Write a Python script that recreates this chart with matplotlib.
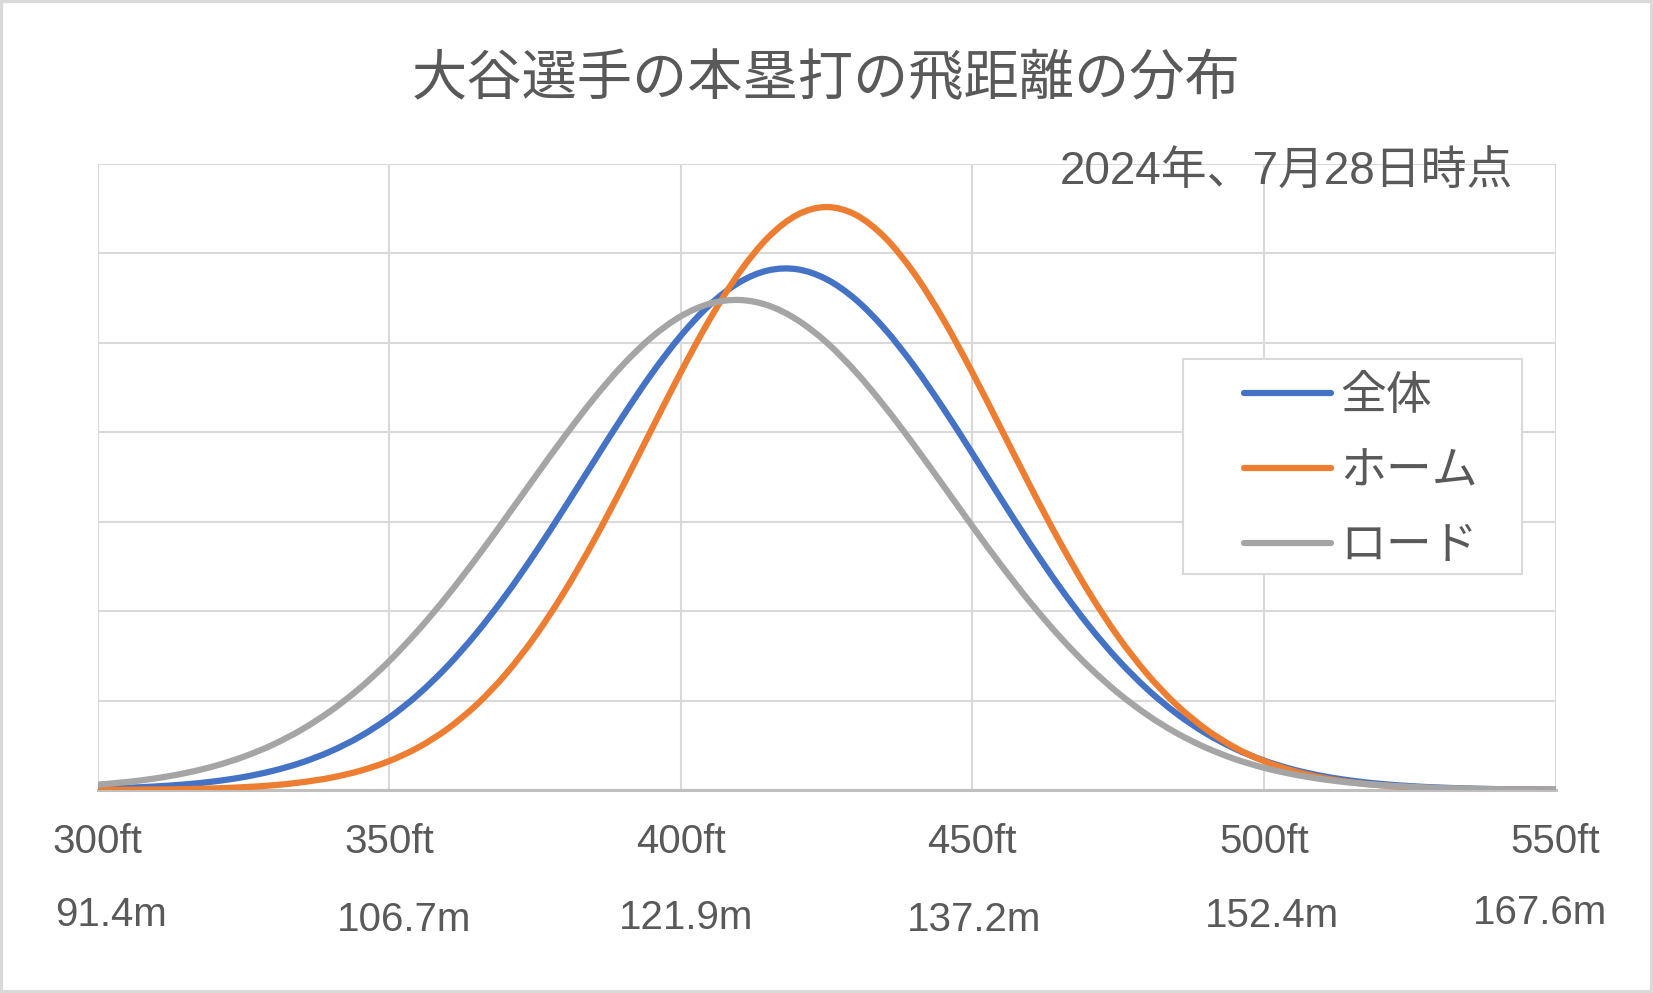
import numpy as np
import matplotlib.pyplot as plt
from matplotlib.patches import Rectangle, PathPatch
from matplotlib.path import Path
from matplotlib.lines import Line2D

# distance (ft), one reading every 5 ft
dist_ft = np.arange(300, 551, 5)

# density (one gridline = 0.002)
zentai = [0.000030, 0.000050, 0.000080, 0.000125, 0.000192, 0.000289, 0.000426, 0.000614,
          0.000866, 0.001195, 0.001616, 0.002138, 0.002769, 0.003511, 0.004356, 0.005292,
          0.006293, 0.007323, 0.008343, 0.009304, 0.010156, 0.010852, 0.011350, 0.011620,
          0.011645, 0.011423, 0.010969, 0.010309, 0.009485, 0.008542, 0.007530, 0.006497,
          0.005488, 0.004537, 0.003672, 0.002909, 0.002256, 0.001712, 0.001272, 0.000925,
          0.000659, 0.000459, 0.000313, 0.000209, 0.000137, 0.000087, 0.000055, 0.000034,
          0.000020, 0.000012, 0.000007]
home = [0.000003, 0.000006, 0.000011, 0.000020, 0.000036, 0.000063, 0.000105, 0.000173,
        0.000275, 0.000428, 0.000647, 0.000952, 0.001366, 0.001907, 0.002592, 0.003431,
        0.004422, 0.005548, 0.006778, 0.008062, 0.009338, 0.010530, 0.011561, 0.012359,
        0.012864, 0.013037, 0.012864, 0.012359, 0.011561, 0.010530, 0.009338, 0.008062,
        0.006778, 0.005548, 0.004422, 0.003431, 0.002592, 0.001907, 0.001366, 0.000952,
        0.000647, 0.000428, 0.000275, 0.000173, 0.000105, 0.000063, 0.000036, 0.000020,
        0.000011, 0.000006, 0.000003]
road = [0.000119, 0.000178, 0.000261, 0.000377, 0.000533, 0.000741, 0.001009, 0.001350,
        0.001771, 0.002280, 0.002881, 0.003573, 0.004347, 0.005191, 0.006083, 0.006995,
        0.007892, 0.008738, 0.009495, 0.010124, 0.010593, 0.010877, 0.010959, 0.010836,
        0.010513, 0.010010, 0.009353, 0.008575, 0.007715, 0.006812, 0.005902, 0.005018,
        0.004187, 0.003428, 0.002754, 0.002171, 0.001680, 0.001275, 0.000950, 0.000694,
        0.000498, 0.000351, 0.000242, 0.000164, 0.000109, 0.000071, 0.000046, 0.000029,
        0.000018, 0.000011, 0.000006]

series_names = ['全体', 'ホーム', 'ロード']
series_colors = ['#4472C4', '#ED7D31', '#A5A5A5']

ft_ticks = [300, 350, 400, 450, 500, 550]
ft_labels = ['300ft', '350ft', '400ft', '450ft', '500ft', '550ft']
m_labels = ['91.4m', '106.7m', '121.9m', '137.2m', '152.4m', '167.6m']

title = '大谷選手の本塁打の飛距離の分布'
subtitle = '2024年、7月28日時点'

TEXT = '#595959'
GRID = '#D9D9D9'
W, H = 1653, 993
LW = 4.5


def smooth_path(x, y):
    # Excel style smoothed line: bezier segments through every data point
    pts = np.column_stack([np.asarray(x, float), np.asarray(y, float)])
    ext = np.vstack([pts[0], pts, pts[-1]])
    verts = [pts[0]]
    codes = [Path.MOVETO]
    for i in range(len(pts) - 1):
        p0, p1, p2, p3 = ext[i], ext[i + 1], ext[i + 2], ext[i + 3]
        verts += [p1 + (p2 - p0) / 6, p2 - (p3 - p1) / 6, p2]
        codes += [Path.CURVE4] * 3
    return Path(verts, codes)


plt.rcParams['font.family'] = ['Liberation Sans', 'Noto Sans CJK JP', 'DejaVu Sans']

fig = plt.figure(figsize=(W / 100, H / 100), dpi=100)
ax = fig.add_axes([97.5 / W, 1 - 790 / H, (1555.5 - 97.5) / W, (790 - 164) / H])

handles = []
for vals, name, col in zip([zentai, home, road], series_names, series_colors):
    ax.add_patch(PathPatch(smooth_path(dist_ft, vals), fill=False, edgecolor=col,
                           lw=LW, capstyle='round', joinstyle='round', zorder=3))
    handles.append(Line2D([], [], color=col, lw=LW, solid_capstyle='round'))

ax.set_xlim(300, 550)
ax.set_ylim(0, 0.014)
ax.set_yticks(np.arange(0, 0.0141, 0.002))
ax.set_yticklabels([])
ax.set_xticks(ft_ticks, ft_labels)
ax.tick_params(axis='y', length=0)
ax.tick_params(axis='x', length=0, pad=24, labelsize=29, labelcolor=TEXT)
ax.grid(True, color=GRID, lw=1.5)
ax.set_axisbelow(True)
for s in ['top', 'right', 'left']:
    ax.spines[s].set_visible(False)
ax.spines['bottom'].set_color('#BFBFBF')
ax.spines['bottom'].set_linewidth(2.2)

# metre labels under each foot label (hand placed text boxes in the original)
m_dx = [9.9, 10.8, 3.6, 1.4, 5.8, -11.5]
m_dy = [-98.2, -101.5, -99.9, -101.5, -98.7, -96.3]
for ft, lab, dx, dy in zip(ft_ticks, m_labels, m_dx, m_dy):
    ax.annotate(lab, xy=(ft, 0), xycoords=('data', 'axes fraction'),
                xytext=(dx, dy), textcoords='offset points',
                ha='center', va='baseline', fontsize=29, color=TEXT,
                annotation_clip=False)

fig.text(0.5, 1 - 94.5 / H, title, ha='center', va='baseline',
         fontsize=39.8, color=TEXT)
fig.text(1513 / W, 1 - 185 / H, subtitle, ha='right', va='baseline',
         fontsize=33, color=TEXT)

# legend box (white, light grey border) and entries
fig.add_artist(Rectangle((1183.3 / W, 1 - 574.3 / H), (1521.7 - 1183.3) / W,
                         (574.3 - 359.3) / H, transform=fig.transFigure,
                         facecolor='white', edgecolor=GRID, lw=1.5, zorder=4))
leg = fig.legend(handles=handles, labels=series_names, loc='center left',
                 bbox_to_anchor=(1243.7 / W, 1 - 472 / H), frameon=False,
                 fontsize=33, handlelength=1.91, handletextpad=0.2,
                 borderpad=0, borderaxespad=0, labelspacing=0.68)
leg.set_zorder(5)
for t in leg.get_texts():
    t.set_color(TEXT)

# outer chart border
fig.add_artist(Rectangle((0, 0), 1, 1, transform=fig.transFigure, fill=False,
                         edgecolor=GRID, lw=4.5, zorder=6))

fig.savefig('out.png', dpi=100)
